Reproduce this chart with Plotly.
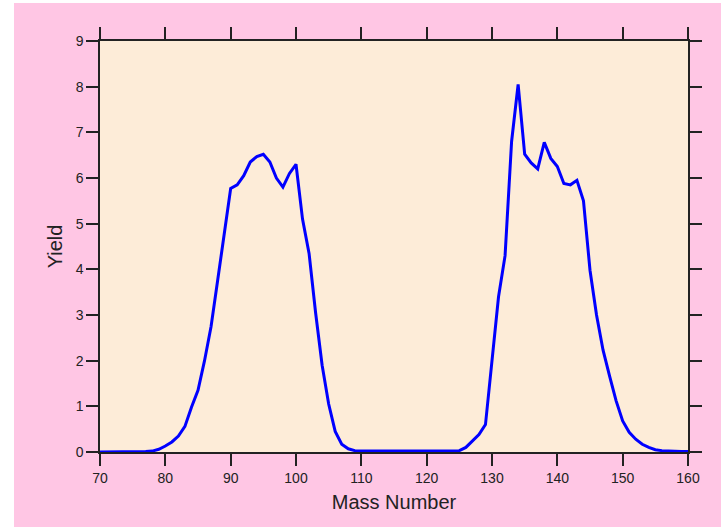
import plotly.graph_objects as go

mass = list(range(70, 161))
yield_vals = [
    0.00, 0.00, 0.01, 0.01, 0.00, 0.01, 0.01, 0.01, 0.02, 0.06,   # 70-79
    0.13, 0.22, 0.35, 0.56, 0.98, 1.35, 2.00, 2.75, 3.75, 4.80,   # 80-89
    5.77, 5.85, 6.05, 6.35, 6.47, 6.52, 6.35, 6.00, 5.80, 6.10,   # 90-99
    6.30, 5.10, 4.35, 3.05, 1.90, 1.05, 0.45, 0.17, 0.07, 0.03,   # 100-109
    0.02, 0.02, 0.02, 0.02, 0.02, 0.02, 0.02, 0.02, 0.02, 0.02,   # 110-119
    0.02, 0.02, 0.02, 0.02, 0.02, 0.03, 0.10, 0.25, 0.38, 0.60,   # 120-129
    1.95, 3.40, 4.30, 6.80, 8.05, 6.52, 6.33, 6.20, 6.78, 6.43,   # 130-139
    6.25, 5.88, 5.85, 5.95, 5.50, 3.98, 3.00, 2.23, 1.66, 1.12,   # 140-149
    0.68, 0.43, 0.28, 0.17, 0.10, 0.05, 0.03, 0.02, 0.01, 0.01,   # 150-159
    0.01,                                                         # 160
]
x_ticks = list(range(70, 161, 10))
y_ticks = list(range(0, 10))

fig = go.Figure()
fig.add_trace(go.Scatter(x=mass, y=yield_vals, mode="lines",
                         line=dict(color="#0000ff", width=3), showlegend=False))

W, H = 721, 527
ml, mr, mt, mb = 100, 33, 41, 75
pw = W - ml - mr
ph = H - mt - mb

axis_common = dict(
    showline=True, linecolor="#222222", linewidth=1.5, mirror="ticks",
    ticks="outside", ticklen=12, tickwidth=1.5, tickcolor="#222222",
    showgrid=False, zeroline=False,
    tickfont=dict(family="Liberation Sans, Arial, sans-serif", size=14, color="#222222"),
)

fig.update_layout(
    width=W, height=H,
    margin=dict(l=ml, r=mr, t=mt, b=mb, autoexpand=False),
    paper_bgcolor="#ffc6e4",
    plot_bgcolor="#fdecd8",
    xaxis=dict(range=[70, 160], tickvals=x_ticks,
               title=dict(text="Mass Number", standoff=10,
                          font=dict(family="Liberation Sans, Arial, sans-serif", size=20, color="#222222")),
               **axis_common),
    yaxis=dict(range=[0, 9], tickvals=y_ticks,
               title=dict(text="Yield", standoff=8,
                          font=dict(family="Liberation Sans, Arial, sans-serif", size=20, color="#222222")),
               **axis_common),
    shapes=[
        dict(type="rect", xref="paper", yref="paper", line=dict(width=0),
             fillcolor="white", layer="above",
             x0=-ml / pw, x1=(14 - ml) / pw, y0=-mb / ph, y1=(mt + ph) / ph + 0.01),
        dict(type="rect", xref="paper", yref="paper", line=dict(width=0),
             fillcolor="white", layer="above",
             x0=-ml / pw, x1=(W - ml) / pw, y0=(mt + ph - 3) / ph, y1=(mt + ph) / ph + 0.01),
    ],
)

fig.write_html("out.html", config={"displayModeBar": False},
               post_script="document.body.style.margin='0';")
